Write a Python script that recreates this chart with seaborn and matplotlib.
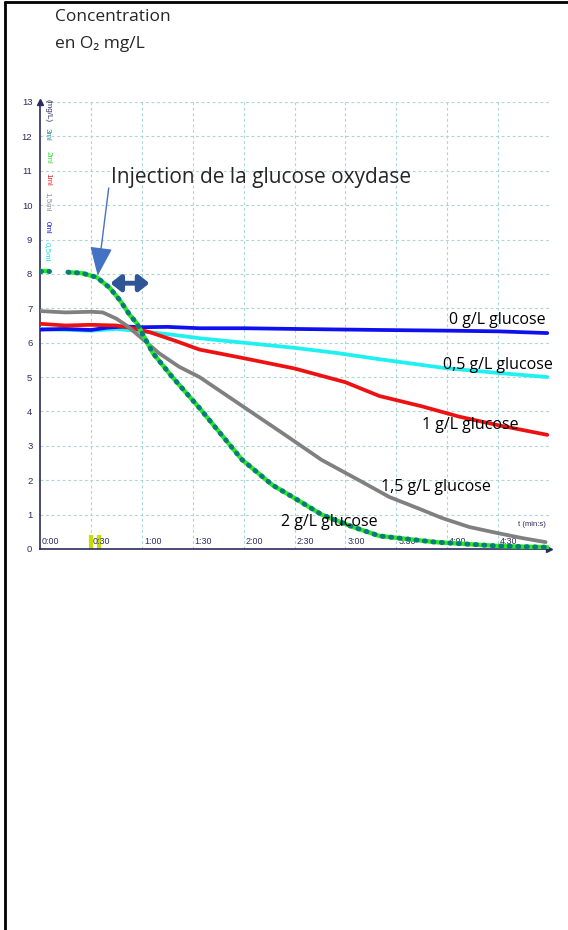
import matplotlib
matplotlib.use("Agg")
import matplotlib.pyplot as plt
from matplotlib.lines import Line2D
import seaborn as sns

# O2 concentration (mg/L) vs time (s) for each glucose concentration
t_0 = [0, 15, 30, 40, 50, 60, 75, 94, 120, 150, 200, 240, 270, 299]
o2_0 = [6.38, 6.4, 6.37, 6.44, 6.47, 6.45, 6.46, 6.42, 6.42, 6.4, 6.37, 6.35, 6.33, 6.28]

t_05 = [0, 30, 45, 60, 75, 94, 120, 150, 175, 200, 239, 270, 299]
o2_05 = [6.4, 6.35, 6.4, 6.33, 6.25, 6.13, 6.0, 5.85, 5.7, 5.52, 5.26, 5.12, 5.0]

t_1 = [0, 15, 30, 45, 55, 65, 80, 94, 120, 150, 180, 200, 225, 247, 270, 299]
o2_1 = [6.55, 6.5, 6.52, 6.5, 6.42, 6.3, 6.05, 5.8, 5.55, 5.25, 4.85, 4.45, 4.15, 3.85, 3.6, 3.32]

t_15 = [0, 15, 30, 37, 45, 51, 59, 70, 82, 94, 124, 145, 166, 188, 206, 222, 237, 253, 269, 284, 298]
o2_15 = [6.92, 6.88, 6.9, 6.88, 6.7, 6.5, 6.17, 5.7, 5.3, 5.0, 4.0, 3.3, 2.59, 2.0, 1.51,
         1.2, 0.9, 0.64, 0.47, 0.32, 0.2]

t_2a = [0, 5.5]
o2_2a = [8.08, 8.08]
t_2 = [16.5, 25, 33.5, 41, 47, 53, 57, 66.5, 78, 94, 119, 137, 149, 166, 184, 200, 233, 269, 299]
o2_2 = [8.05, 8.02, 7.9, 7.6, 7.24, 6.8, 6.57, 5.7, 5.0, 4.1, 2.6, 1.86, 1.51, 1.0, 0.65,
        0.38, 0.2, 0.09, 0.05]

x_ticks = [0, 30, 60, 90, 120, 150, 180, 210, 240, 270]
x_tick_labels = ["0:00", "0:30", "1:00", "1:30", "2:00", "2:30", "3:00", "3:30", "4:00", "4:30"]
y_ticks = list(range(0, 14))
marks_t = [30, 35]

side_labels = ["(mg/L)", "3ml", "2ml", "1ml", "1,5ml", "0ml", "0,5ml"]
side_colors = ["#2b2b5e", "#2e8b8b", "#33dd33", "#ee2222", "#909090", "#1a1acc", "#22dddd"]
side_y = [12.75, 12.05, 11.4, 10.75, 10.1, 9.35, 8.65]

curve_labels = ["0 g/L glucose", "0,5 g/L glucose", "1 g/L glucose",
                "1,5 g/L glucose", "2 g/L glucose"]
label_t = [298, 302, 282, 266, 199]
label_y = [6.66, 5.35, 3.6, 1.8, 0.78]

sns.set_style("white")
plt.rcParams["font.family"] = ["Open Sans", "DejaVu Sans"]

navy = "#2b2b5e"
fig = plt.figure(figsize=(5.68, 9.3), dpi=100)
ax = fig.add_axes([40 / 568, 381 / 930, 509 / 568, 447 / 930])

# grid
for yv in y_ticks[1:]:
    ax.axhline(yv, color="#a9d6d6", lw=0.8, ls=(0, (2.5, 2.5)), zorder=0)
for xv in x_ticks[1:]:
    ax.axvline(xv, color="#a9d6d6", lw=0.8, ls=(0, (2.5, 2.5)), zorder=0)

# injection marks on time axis
for mt in marks_t:
    ax.plot([mt, mt], [0, 0.4], color="#c8dc00", lw=3, zorder=1, solid_capstyle="butt")

# x tick labels drawn inside the plot, above the axis
for xv, lab in zip(x_ticks, x_tick_labels):
    ax.text(xv + 1.2, 0.08, lab, fontsize=6.4, color=navy, family="Liberation Sans",
            ha="left", va="bottom", zorder=1)
ax.text(298, 0.62, "t (min:s)", fontsize=5.5, color=navy, family="Liberation Sans",
        ha="right", va="bottom")

sns.lineplot(x=t_05, y=o2_05, color="#1ff0f0", lw=2.7, ax=ax, zorder=3)
sns.lineplot(x=t_0, y=o2_0, color="#1010ee", lw=2.7, ax=ax, zorder=4)
sns.lineplot(x=t_1, y=o2_1, color="#ee1111", lw=2.7, ax=ax, zorder=4)
sns.lineplot(x=t_15, y=o2_15, color="#808080", lw=2.7, ax=ax, zorder=4)
for tt, yy in [(t_2a, o2_2a), (t_2, o2_2)]:
    sns.lineplot(x=tt, y=yy, color="#22ee22", lw=3.2, ax=ax, zorder=5)
    sns.lineplot(x=tt, y=yy, color="#0f7a7a", lw=3.6, ax=ax, zorder=6,
                 linestyle=(0, (0.2, 1.5)), dash_capstyle="round")

ax.set_xlim(0, 300)
ax.set_ylim(0, 13)
ax.set_xticks(x_ticks)
ax.set_xticklabels([])
ax.set_yticks(y_ticks)
ax.set_yticklabels([str(v) for v in y_ticks], fontsize=6.8, color=navy, family="Liberation Sans")
ax.tick_params(axis="x", direction="inout", length=9, width=1, color="#55557a")
ax.tick_params(axis="y", direction="inout", length=9, width=1, color="#55557a", pad=1)
for s in ["top", "right"]:
    ax.spines[s].set_visible(False)
for s in ["left", "bottom"]:
    ax.spines[s].set_color(navy)
    ax.spines[s].set_linewidth(1.2)
ax.plot(1, 0, ">", color=navy, ms=4, transform=ax.transAxes, clip_on=False)
ax.plot(0, 1, "^", color=navy, ms=4, transform=ax.transAxes, clip_on=False)

# small rotated series labels near the y axis
for lab, col, yv in zip(side_labels, side_colors, side_y):
    ax.text(4.5, yv, lab, rotation=-90, fontsize=5.8, color=col, family="Liberation Sans",
            ha="center", va="center")

# curve labels
for lab, lt, ly in zip(curve_labels, label_t, label_y):
    ax.text(lt, ly, lab, fontsize=11.5, color="black", ha="right", va="center",
            zorder=10, clip_on=False)

# injection annotation
ax.text(42.0, 10.81, "Injection de la glucose oxydase", fontsize=15, ha="left", va="center")
ax.annotate("", xy=(34, 7.95), xytext=(40.5, 10.5),
            arrowprops=dict(arrowstyle="-|>,head_length=1.8,head_width=0.7",
                            color="#4472c4", lw=1.0, shrinkA=0, shrinkB=0), zorder=8)
ax.annotate("", xy=(64.5, 7.73), xytext=(41.5, 7.73),
            arrowprops=dict(arrowstyle="<|-|>,head_length=0.5,head_width=0.4",
                            color="#2f5597", lw=3.5, mutation_scale=12,
                            shrinkA=0, shrinkB=0), zorder=8)

# title texts
fig.text(55 / 568, 1 - 17 / 930, "Concentration", fontsize=12.5, ha="left", va="center")
fig.text(55 / 568, 1 - 44 / 930, "en O\u2082 mg/L", fontsize=12.5, ha="left", va="center")

# page border (top and left)
fig.add_artist(Line2D([5 / 568, 1], [1 - 2 / 930, 1 - 2 / 930], color="black", lw=2,
                      transform=fig.transFigure))
fig.add_artist(Line2D([5 / 568, 5 / 568], [0, 1 - 2 / 930], color="black", lw=2,
                      transform=fig.transFigure))

fig.savefig("out.png", dpi=100)
